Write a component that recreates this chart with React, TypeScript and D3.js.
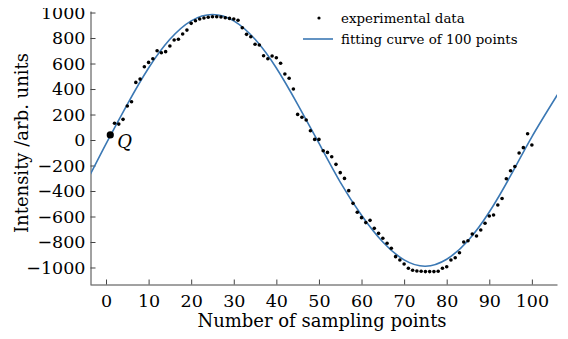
import React from "react";
import * as d3 from "d3";

// experimental data, sampling points 2..100 (point 1 is Q)
const sampleIdx: number[] = d3.range(2, 101);
const measured: number[] = [
  131, 125, 162, 267, 300, 452, 478, 575, 609, 638,
  700, 685, 693, 737, 784, 790, 831, 862, 915, 936,
  949, 957, 963, 967, 967, 965, 959, 954, 949, 939,
  881, 829, 810, 751, 745, 661, 638, 659, 645, 602,
  518, 484, 400, 201, 178, 157, 73, 5, 5, -84,
  -97, -131, -191, -256, -301, -397, -497, -567, -609, -648,
  -630, -693, -732, -771, -810, -849, -915, -941, -973, -1006,
  -1022, -1028, -1030, -1032, -1032, -1032, -1030, -1006, -994, -941,
  -923, -884, -800, -790, -737, -753, -706, -653, -596, -588,
  -510, -459, -304, -241, -208, -102, -60, 49, -39,
];

// fitting curve, read at coarse steps
const fitX: number[] = [-4, 0, 5, 10, 15, 20, 25, 30, 35, 40, 45, 50, 55, 60, 65, 70, 75, 80, 85, 90, 95, 100, 106];
const fitY: number[] = [-290, -30, 280, 565, 790, 935, 985, 935, 790, 565, 280, -25, -330, -590, -800, -940, -990, -935, -790, -565, -280, 25, 355];

const pointQ = { x: 1, y: 40 };

const xTicks: number[] = [0, 10, 20, 30, 40, 50, 60, 70, 80, 90, 100];
const yTicks: number[] = [-1000, -800, -600, -400, -200, 0, 200, 400, 600, 800, 1000];

const FONT = "'DejaVu Serif', serif";

export default function App() {
  const ref = React.useRef<HTMLDivElement>(null);

  React.useEffect(() => {
    d3.select(ref.current).select("svg").remove();
    drawChart();
  });

  function drawChart() {
    const width = 568;
    const height = 339;

    const svg = d3
      .select(ref.current)
      .append("svg")
      .attr("width", width)
      .attr("height", height)
      .style("display", "block")
      .style("background", "#fff");

    const x = d3.scaleLinear().domain([-3.76, 105.9]).range([90, 557]);
    const y = d3.scaleLinear().domain([-1131, 1012]).range([284.2, 11]);

    const axisColor = "#444";

    // x axis
    const xAxis = d3
      .axisBottom(x)
      .tickValues(xTicks)
      .tickSizeInner(-5)
      .tickSizeOuter(0)
      .tickPadding(10)
      .tickFormat(d3.format("d") as any);
    const gx = svg.append("g").attr("transform", "translate(0,284.5)").call(xAxis);
    gx.select(".domain").attr("stroke", axisColor);
    gx.selectAll(".tick line").attr("stroke", axisColor);
    gx.selectAll(".tick text")
      .attr("fill", "#000")
      .style("font-family", FONT)
      .style("font-size", "17.5px");

    // y axis
    const yAxis = d3
      .axisLeft(y)
      .tickValues(yTicks)
      .tickSizeInner(-5)
      .tickSizeOuter(0)
      .tickPadding(5)
      .tickFormat((d) => (+d < 0 ? "\u2212" + Math.abs(+d) : String(d)));
    const gy = svg.append("g").attr("transform", "translate(90.5,0)").call(yAxis);
    gy.select(".domain").attr("stroke", axisColor);
    gy.selectAll(".tick line").attr("stroke", axisColor);
    gy.selectAll(".tick text")
      .attr("fill", "#000")
      .style("font-family", FONT)
      .style("font-size", "17.5px");

    // fitting curve
    const fitData = fitX.map((v, i) => [v, fitY[i]] as [number, number]);
    svg.append("defs")
      .append("clipPath")
      .attr("id", "plotClip")
      .append("rect")
      .attr("x", 91)
      .attr("y", 0)
      .attr("width", 466)
      .attr("height", 284);
    svg.append("path")
      .datum(fitData)
      .attr("clip-path", "url(#plotClip)")
      .attr("fill", "none")
      .attr("stroke", "#3b78b4")
      .attr("stroke-width", 1.6)
      .attr(
        "d",
        d3
          .line<[number, number]>()
          .x((d) => x(d[0]))
          .y((d) => y(d[1]))
          .curve(d3.curveNatural)
      );

    // experimental dots
    svg.append("g")
      .selectAll("circle")
      .data(sampleIdx)
      .enter()
      .append("circle")
      .attr("cx", (d) => x(d))
      .attr("cy", (d, i) => y(measured[i]))
      .attr("r", 1.8)
      .attr("fill", "#000");

    // point Q
    svg.append("circle")
      .attr("cx", x(pointQ.x))
      .attr("cy", y(pointQ.y))
      .attr("r", 3.6)
      .attr("fill", "#000");
    svg.append("text")
      .attr("x", x(pointQ.x) + 7)
      .attr("y", y(pointQ.y) + 13)
      .style("font-family", FONT)
      .style("font-style", "italic")
      .style("font-size", "18px")
      .attr("fill", "#000")
      .text("Q");

    // legend
    const lg = svg.append("g");
    lg.append("circle").attr("cx", 319).attr("cy", 18).attr("r", 1.6).attr("fill", "#000");
    lg.append("text")
      .attr("x", 341)
      .attr("y", 23)
      .style("font-family", FONT)
      .style("font-size", "13.4px")
      .attr("fill", "#000")
      .text("experimental data");
    lg.append("line")
      .attr("x1", 303)
      .attr("x2", 333)
      .attr("y1", 39)
      .attr("y2", 39)
      .attr("stroke", "#3b78b4")
      .attr("stroke-width", 1.6);
    lg.append("text")
      .attr("x", 341)
      .attr("y", 44)
      .style("font-family", FONT)
      .style("font-size", "13.4px")
      .attr("fill", "#000")
      .text("fitting curve of 100 points");

    // axis titles
    svg.append("text")
      .attr("x", 322)
      .attr("y", 327)
      .attr("text-anchor", "middle")
      .style("font-family", FONT)
      .style("font-size", "18px")
      .attr("fill", "#000")
      .text("Number of sampling points");
    svg.append("text")
      .attr("transform", "translate(28,143) rotate(-90)")
      .attr("text-anchor", "middle")
      .style("font-family", FONT)
      .style("font-size", "18px")
      .attr("fill", "#000")
      .text("Intensity /arb. units");
  }

  return <div ref={ref} style={{ margin: "-8px" }} />;
}
